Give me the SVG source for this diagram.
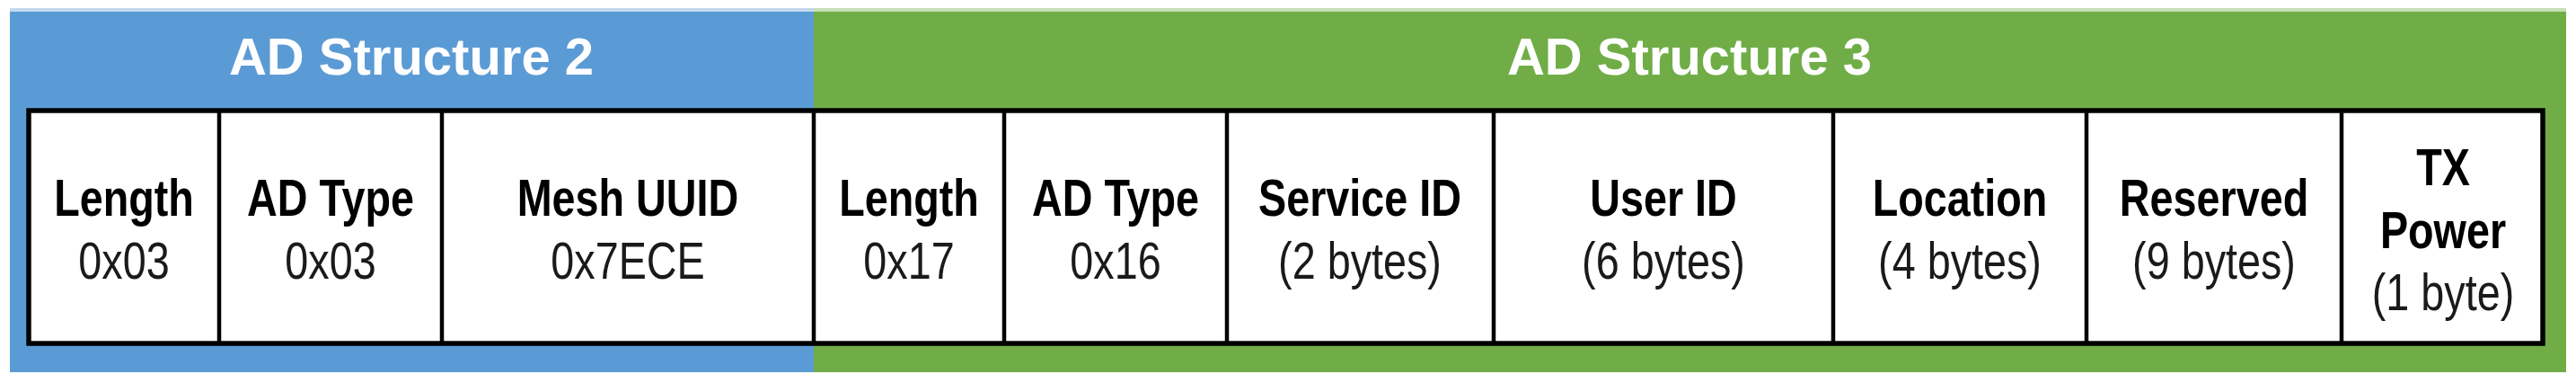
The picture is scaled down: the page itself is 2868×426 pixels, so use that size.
<svg xmlns="http://www.w3.org/2000/svg" width="2868" height="426" viewBox="0 0 2868 426">
  <style>
    .hdr { font-family: "Liberation Sans", Arial, sans-serif; font-weight: bold; font-size: 58px; fill: #ffffff; text-anchor: middle; }
    .lbl { font-family: "Liberation Sans", Arial, sans-serif; font-weight: bold; font-size: 57px; fill: #000000; text-anchor: middle; }
    .val { font-family: "Liberation Sans", Arial, sans-serif; font-weight: normal; font-size: 57px; fill: #1a1a1a; text-anchor: middle; }
    .div { stroke: #000000; stroke-width: 4.5; }
  </style>
  <rect x="0" y="0" width="2868" height="426" fill="#ffffff"/>
  <g id="ad-structure-2">
    <rect x="11" y="9" width="895" height="4" fill="#c3d8ee"/>
    <rect x="11" y="13" width="895" height="401" fill="#5b9bd5"/>
    <text class="hdr" x="458" y="83">AD Structure 2</text>
  </g>
  <g id="ad-structure-3">
    <rect x="906" y="9" width="1951" height="4" fill="#c8dfb8"/>
    <rect x="906" y="13" width="1951" height="401" fill="#70ad47"/>
    <text class="hdr" x="1881" y="83">AD Structure 3</text>
  </g>
  <g id="table-frame">
    <rect x="32" y="123" width="2799" height="259" fill="#ffffff" stroke="#000000" stroke-width="5.5"/>
  </g>
  <g id="connectors">
    <line class="div" x1="244" y1="123" x2="244" y2="382"/>
    <line class="div" x1="492" y1="123" x2="492" y2="382"/>
    <line class="div" x1="906" y1="123" x2="906" y2="382"/>
    <line class="div" x1="1118" y1="123" x2="1118" y2="382"/>
    <line class="div" x1="1366" y1="123" x2="1366" y2="382"/>
    <line class="div" x1="1663" y1="123" x2="1663" y2="382"/>
    <line class="div" x1="2041" y1="123" x2="2041" y2="382"/>
    <line class="div" x1="2323" y1="123" x2="2323" y2="382"/>
    <line class="div" x1="2607" y1="123" x2="2607" y2="382"/>
  </g>
  <g id="cell-length-2" transform="translate(138,0) scale(0.82,1)">
    <text class="lbl" x="0" y="240">Length</text>
    <text class="val" x="0" y="310">0x03</text>
  </g>
  <g id="cell-adtype-2" transform="translate(368,0) scale(0.82,1)">
    <text class="lbl" x="0" y="240">AD Type</text>
    <text class="val" x="0" y="310">0x03</text>
  </g>
  <g id="cell-mesh-uuid" transform="translate(699,0) scale(0.82,1)">
    <text class="lbl" x="0" y="240">Mesh UUID</text>
    <text class="val" x="0" y="310">0x7ECE</text>
  </g>
  <g id="cell-length-3" transform="translate(1012,0) scale(0.82,1)">
    <text class="lbl" x="0" y="240">Length</text>
    <text class="val" x="0" y="310">0x17</text>
  </g>
  <g id="cell-adtype-3" transform="translate(1242,0) scale(0.82,1)">
    <text class="lbl" x="0" y="240">AD Type</text>
    <text class="val" x="0" y="310">0x16</text>
  </g>
  <g id="cell-service-id" transform="translate(1514,0) scale(0.82,1)">
    <text class="lbl" x="0" y="240">Service ID</text>
    <text class="val" x="0" y="310">(2 bytes)</text>
  </g>
  <g id="cell-user-id" transform="translate(1852,0) scale(0.82,1)">
    <text class="lbl" x="0" y="240">User ID</text>
    <text class="val" x="0" y="310">(6 bytes)</text>
  </g>
  <g id="cell-location" transform="translate(2182,0) scale(0.82,1)">
    <text class="lbl" x="0" y="240">Location</text>
    <text class="val" x="0" y="310">(4 bytes)</text>
  </g>
  <g id="cell-reserved" transform="translate(2465,0) scale(0.82,1)">
    <text class="lbl" x="0" y="240">Reserved</text>
    <text class="val" x="0" y="310">(9 bytes)</text>
  </g>
  <g id="cell-tx-power" transform="translate(2720,0) scale(0.82,1)">
    <text class="lbl" x="0" y="206">TX</text>
    <text class="lbl" x="0" y="276">Power</text>
    <text class="val" x="0" y="345">(1 byte)</text>
  </g>
</svg>
